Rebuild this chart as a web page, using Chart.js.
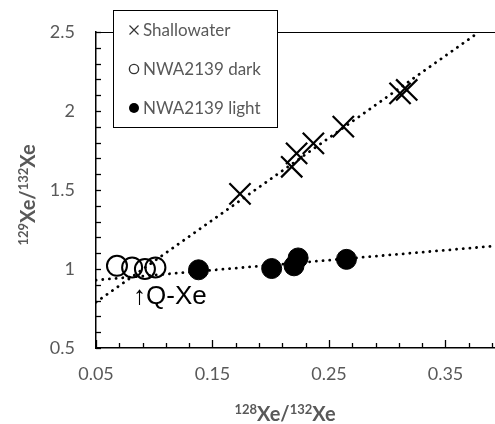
<!DOCTYPE html>
<html><head><meta charset="utf-8">
<script src="https://cdn.jsdelivr.net/npm/chart.js@4/dist/chart.umd.min.js"></script>
<style>html,body{margin:0;padding:0;background:#fff;}canvas{display:block}</style>
</head><body>
<canvas id="c" width="495" height="424"></canvas>
<script>
// ---- data ----
const seriesNames = ['Shallowater', 'NWA2139 dark', 'NWA2139 light'];
const shallowX = [0.1736, 0.218, 0.2222, 0.2366, 0.2623, 0.311, 0.3167];
const shallowY = [1.475, 1.647, 1.732, 1.795, 1.901, 2.112, 2.133];
const darkX = [0.068, 0.081, 0.092, 0.101];
const darkY = [1.02, 1.01, 1.0, 1.01];
const lightX = [0.138, 0.2008, 0.220, 0.2235, 0.265];
const lightY = [0.995, 1.003, 1.02, 1.07, 1.061];
const shallowTrendX = [0.05, 0.376];
const shallowTrendY = [0.79, 2.485];
const lightTrendX = [0.05, 0.3925];
const lightTrendY = [0.93, 1.146];
const xTickValues = [0.05, 0.07, 0.09, 0.11, 0.13, 0.15, 0.17, 0.19, 0.21, 0.23, 0.25, 0.27, 0.29, 0.31, 0.33, 0.35, 0.37, 0.39];
const xTickLabels = ['0.05', '0.15', '0.25', '0.35'];
const yTickLabels = ['0.5', '1', '1.5', '2', '2.5'];
const xTitleParts = [['128', true], ['Xe/', false], ['132', true], ['Xe', false]];
const yTitleParts = [['129', true], ['Xe/', false], ['132', true], ['Xe', false]];
const annotationText = '\u2191Q-Xe';
const annotationPos = [0.0818, 0.823];

const pts = (xs, ys) => xs.map((x, i) => ({x: x, y: ys[i]}));
const GRAY = '#595959';
const FONT = 'Lato, "Open Sans", sans-serif';

function drawRich(ctx, parts, big, small, rise) {
  let w = 0;
  parts.forEach(p => { ctx.font = 'bold ' + (p[1] ? small : big) + 'px ' + FONT; w += ctx.measureText(p[0]).width; });
  let x = -w / 2;
  parts.forEach(p => {
    ctx.font = 'bold ' + (p[1] ? small : big) + 'px ' + FONT;
    ctx.fillText(p[0], x, p[1] ? -rise : 0);
    x += ctx.measureText(p[0]).width;
  });
}

const decor = {
  id: 'decor',
  afterDraw(chart) {
    const ctx = chart.ctx, a = chart.chartArea;
    const xs = chart.scales.x, ys = chart.scales.y;
    ctx.save();
    ctx.strokeStyle = '#000';
    // top border
    ctx.lineWidth = 1;
    ctx.beginPath(); ctx.moveTo(a.left, a.top + 0.5); ctx.lineTo(a.right, a.top + 0.5); ctx.stroke();
    // inward tick marks
    ctx.lineWidth = 1.3;
    ys.ticks.forEach(t => {
      const py = Math.round(ys.getPixelForValue(t.value)) + 0.5;
      ctx.beginPath(); ctx.moveTo(a.left, py); ctx.lineTo(a.left + 5, py); ctx.stroke();
    });
    xs.ticks.forEach(t => {
      const px = Math.round(xs.getPixelForValue(t.value)) + 0.5;
      const major = xTickLabels.indexOf(t.value.toFixed(2)) >= 0;
      ctx.beginPath(); ctx.moveTo(px, a.bottom); ctx.lineTo(px, a.bottom - (major ? 8 : 5)); ctx.stroke();
    });
    // annotation
    ctx.fillStyle = '#000';
    ctx.font = '26px "Liberation Sans", Arial, sans-serif';
    ctx.textAlign = 'left'; ctx.textBaseline = 'middle';
    ctx.fillText(annotationText, xs.getPixelForValue(annotationPos[0]), ys.getPixelForValue(annotationPos[1]));
    // axis titles
    ctx.fillStyle = GRAY; ctx.textBaseline = 'alphabetic';
    ctx.save(); ctx.translate(285, 421); drawRich(ctx, xTitleParts, 20, 13, 7); ctx.restore();
    ctx.save(); ctx.translate(35, 195); ctx.rotate(-Math.PI / 2); drawRich(ctx, yTitleParts, 20, 13, 7); ctx.restore();
    // legend
    ctx.fillStyle = '#fff';
    ctx.fillRect(113, 10, 164, 117);
    ctx.strokeStyle = '#000'; ctx.lineWidth = 1;
    ctx.strokeRect(113.5, 10.5, 164, 117);
    const rows = [30, 69, 108];
    chart.data.datasets.slice(0, 3).forEach((ds, i) => {
      const cy = rows[i], cx = 134;
      ctx.strokeStyle = GRAY; ctx.fillStyle = '#000'; ctx.lineWidth = 1.2;
      if (i === 0) {
        ctx.strokeStyle = '#333';
        ctx.beginPath(); ctx.moveTo(cx - 4.5, cy - 4.5); ctx.lineTo(cx + 4.5, cy + 4.5);
        ctx.moveTo(cx + 4.5, cy - 4.5); ctx.lineTo(cx - 4.5, cy + 4.5); ctx.stroke();
      } else if (i === 1) {
        ctx.strokeStyle = '#333'; ctx.lineWidth = 1.4;
        ctx.beginPath(); ctx.arc(cx, cy, 4.6, 0, Math.PI * 2); ctx.stroke();
      } else {
        ctx.beginPath(); ctx.arc(cx, cy, 5, 0, Math.PI * 2); ctx.fill();
      }
      ctx.fillStyle = GRAY; ctx.font = '17px ' + FONT; ctx.textBaseline = 'middle';
      ctx.fillText(ds.label, 143, cy + 1);
    });
    ctx.restore();
  }
};

new Chart(document.getElementById('c'), {
  type: 'scatter',
  data: {
    datasets: [
      {label: seriesNames[0], data: pts(shallowX, shallowY), pointStyle: 'crossRot', pointRadius: 15,
       borderColor: '#000', backgroundColor: '#000', pointBorderWidth: 2.2, order: 0},
      {label: seriesNames[1], data: pts(darkX, darkY), pointStyle: 'circle', pointRadius: 10,
       borderColor: '#000', backgroundColor: 'rgba(0,0,0,0)', pointBorderWidth: 2, order: 0},
      {label: seriesNames[2], data: pts(lightX, lightY), pointStyle: 'circle', pointRadius: 10,
       borderColor: '#000', backgroundColor: '#000', pointBorderWidth: 1, order: 0},
      {label: 'trend1', data: pts(shallowTrendX, shallowTrendY), showLine: true, pointRadius: 0,
       borderColor: '#000', borderWidth: 2.8, borderDash: [0.1, 6.6], borderCapStyle: 'round', order: 1},
      {label: 'trend2', data: pts(lightTrendX, lightTrendY), showLine: true, pointRadius: 0,
       borderColor: '#000', borderWidth: 2.8, borderDash: [0.1, 6.6], borderCapStyle: 'round', order: 1}
    ]
  },
  options: {
    responsive: false, animation: false, devicePixelRatio: 1,
    layout: {autoPadding: false, padding: {top: 32, left: 0, right: 0, bottom: 0}},
    plugins: {legend: {display: false}, tooltip: {enabled: false}},
    scales: {
      x: {
        type: 'linear', min: 0.05, max: 0.3925,
        afterBuildTicks: s => { s.ticks = xTickValues.map(v => ({value: v})); },
        afterFit: s => { s.height = 76; s.paddingLeft = 0; s.paddingRight = 0; },
        grid: {display: false, drawTicks: false},
        border: {display: true, color: '#000', width: 1.5},
        ticks: {
          autoSkip: false, maxRotation: 0, padding: 15, color: GRAY, font: {family: FONT, size: 18},
          callback: v => { const s = Number(v).toFixed(2); return xTickLabels.indexOf(s) >= 0 ? s : ''; }
        }
      },
      y: {
        type: 'linear', min: 0.5, max: 2.5,
        afterFit: s => { s.width = 96; s.paddingTop = 0; s.paddingBottom = 0; },
        grid: {display: false, drawTicks: false},
        border: {display: true, color: '#000', width: 1.5},
        ticks: {
          stepSize: 0.1, autoSkip: false, padding: 21, color: GRAY, font: {family: FONT, size: 18},
          callback: v => { const s = String(Math.round(v * 10) / 10); return yTickLabels.indexOf(s) >= 0 ? s : ''; }
        }
      }
    }
  },
  plugins: [decor]
});
</script>
</body></html>
